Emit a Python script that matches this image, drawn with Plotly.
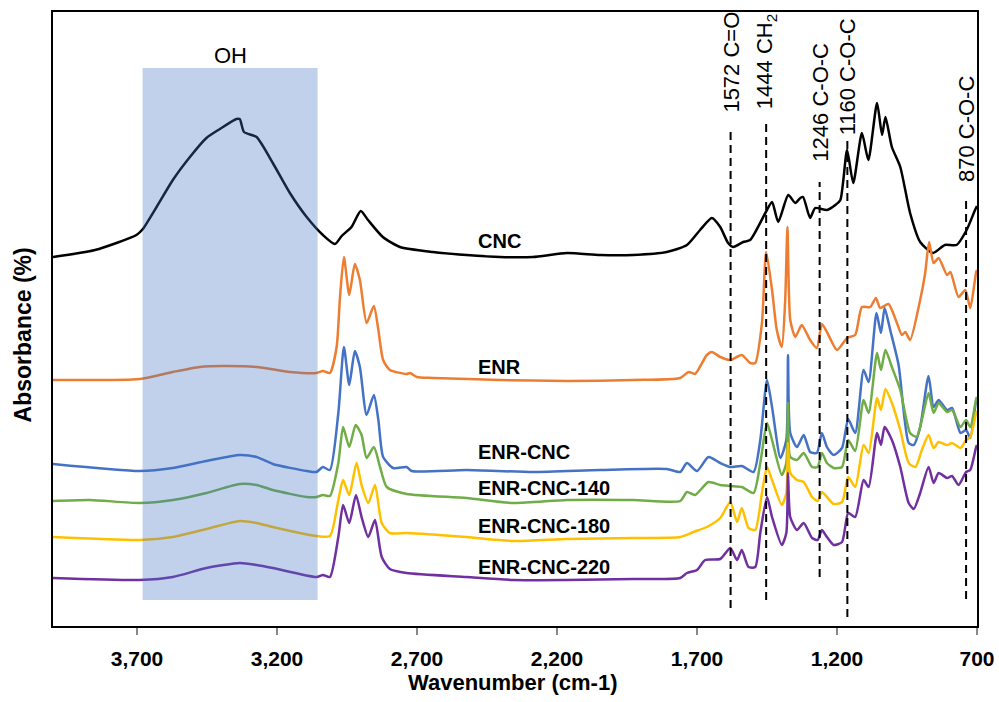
import plotly.graph_objects as go

# ---------------- data (wavenumber cm-1, stacked absorbance a.u.) ----------------
cnc_wn = [4000, 3850, 3702, 3679, 3630, 3572, 3511, 3452, 3404, 3345, 3333, 3318, 3273, 3215, 3154,
          3094, 3036, 2993, 2969, 2934, 2901, 2875, 2822, 2761, 2643, 2523, 2403, 2286, 2165, 2046,
          1928, 1808, 1736, 1689, 1647, 1617, 1589, 1571, 1535, 1510, 1456, 1432, 1410, 1374, 1349,
          1331, 1321, 1296, 1278, 1236, 1206, 1188, 1164, 1142, 1111, 1088, 1057, 1039, 1027, 1004,
          974, 939, 903, 857, 815, 773, 737, 707, 700]
cnc_abs = [3.69, 3.76, 3.91, 3.97, 4.19, 4.46, 4.69, 4.88, 4.97, 5.07, 5.07, 4.94, 4.89, 4.63, 4.33,
           4.09, 3.91, 3.82, 3.90, 3.99, 4.15, 4.06, 3.89, 3.79, 3.74, 3.71, 3.69, 3.69, 3.73, 3.71,
           3.71, 3.74, 3.81, 3.96, 4.08, 3.99, 3.83, 3.79, 3.84, 3.86, 4.13, 4.24, 4.04, 4.31, 4.23,
           4.28, 4.29, 4.08, 4.18, 4.16, 4.21, 4.26, 4.76, 4.43, 4.93, 4.66, 5.23, 4.91, 5.09, 4.79,
           4.59, 4.13, 3.84, 3.73, 3.81, 3.81, 3.96, 4.16, 4.20]

enr_wn = [4000, 3690, 3572, 3476, 3393, 3273, 3154, 3059, 3036, 3011, 2987, 2975, 2961, 2942, 2922,
          2904, 2880, 2854, 2838, 2821, 2797, 2737, 2725, 2701, 2643, 2403, 2165, 1928, 1760, 1730,
          1707, 1665, 1647, 1617, 1581, 1540, 1510, 1492, 1468, 1453, 1432, 1415, 1397, 1385, 1377,
          1367, 1349, 1331, 1325, 1296, 1272, 1254, 1236, 1200, 1164, 1135, 1111, 1081, 1061, 1046,
          1016, 986, 968, 956, 939, 903, 885, 871, 855, 837, 807, 795, 766, 742, 724, 703, 700]
enr_abs = [2.46, 2.47, 2.54, 2.59, 2.60, 2.59, 2.54, 2.53, 2.55, 2.53, 2.79, 3.29, 3.69, 3.31, 3.62,
           3.46, 3.03, 3.20, 2.96, 2.66, 2.56, 2.52, 2.53, 2.49, 2.48, 2.46, 2.45, 2.46, 2.48, 2.54,
           2.52, 2.71, 2.74, 2.69, 2.66, 2.71, 2.63, 2.63, 3.03, 3.74, 3.36, 2.96, 2.79, 3.26, 3.99,
           3.06, 2.89, 2.99, 3.01, 2.86, 2.78, 3.02, 2.94, 2.76, 2.88, 2.91, 3.19, 3.19, 3.28, 3.18,
           3.22, 3.03, 2.91, 2.94, 2.86, 3.26, 3.53, 3.84, 3.63, 3.68, 3.51, 3.54, 3.29, 3.36, 3.18,
           3.54, 3.56]

enrcnc_wn = [4000, 3690, 3572, 3452, 3333, 3273, 3215, 3094, 3059, 3036, 3011, 2981, 2961, 2942, 2922,
             2904, 2880, 2854, 2838, 2821, 2785, 2737, 2719, 2523, 2286, 2046, 1808, 1760, 1736, 1700,
             1659, 1617, 1581, 1540, 1498, 1474, 1450, 1432, 1402, 1381, 1375, 1367, 1343, 1319, 1296,
             1272, 1254, 1236, 1212, 1182, 1160, 1135, 1105, 1087, 1059, 1043, 1030, 1010, 980, 944,
             926, 903, 873, 855, 837, 807, 789, 759, 739, 724, 703, 700]
enrcnc_abs = [1.62, 1.55, 1.58, 1.65, 1.71, 1.69, 1.62, 1.55, 1.54, 1.59, 1.56, 2.13, 2.79, 2.41, 2.75,
              2.59, 2.11, 2.31, 2.06, 1.69, 1.58, 1.59, 1.55, 1.56, 1.54, 1.56, 1.57, 1.54, 1.63, 1.55,
              1.69, 1.63, 1.59, 1.60, 1.54, 1.86, 2.46, 2.19, 1.68, 1.86, 2.71, 1.93, 1.79, 1.91, 1.74,
              1.73, 1.93, 1.79, 1.71, 1.78, 2.07, 1.93, 2.56, 2.44, 3.13, 2.93, 3.18, 2.96, 2.61, 1.83,
              1.81, 1.99, 2.50, 2.19, 2.26, 2.16, 2.18, 1.93, 1.96, 1.88, 2.26, 2.28]

enrcnc140_wn = [4000, 3869, 3690, 3572, 3452, 3333, 3273, 3215, 3094, 3059, 3036, 3011, 2981, 2964, 2942,
                2919, 2898, 2880, 2854, 2832, 2808, 2737, 2523, 2356, 2165, 1928, 1760, 1736, 1707, 1659,
                1617, 1581, 1540, 1498, 1474, 1450, 1432, 1397, 1381, 1375, 1367, 1343, 1319, 1289, 1269,
                1254, 1236, 1212, 1182, 1160, 1135, 1105, 1087, 1057, 1043, 1027, 1004, 974, 939, 915,
                897, 873, 855, 837, 807, 789, 759, 739, 724, 703, 700]
enrcnc140_abs = [1.25, 1.26, 1.23, 1.26, 1.33, 1.42, 1.41, 1.36, 1.29, 1.29, 1.31, 1.30, 1.63, 1.99, 1.79,
                 2.01, 1.91, 1.68, 1.79, 1.59, 1.39, 1.32, 1.28, 1.23, 1.26, 1.26, 1.25, 1.34, 1.31, 1.44,
                 1.41, 1.40, 1.39, 1.33, 1.63, 2.03, 1.86, 1.51, 1.63, 2.23, 1.69, 1.66, 1.73, 1.59, 1.59,
                 1.73, 1.63, 1.58, 1.59, 1.86, 1.75, 2.26, 2.13, 2.73, 2.56, 2.76, 2.59, 2.36, 1.93, 1.89,
                 2.06, 2.33, 2.13, 2.23, 2.14, 2.16, 1.99, 2.06, 1.99, 2.27, 2.29]

enrcnc180_wn = [4000, 3690, 3572, 3452, 3333, 3273, 3215, 3059, 3011, 2981, 2964, 2942, 2916, 2898, 2874,
                2850, 2826, 2797, 2737, 2523, 2356, 2165, 1928, 1760, 1713, 1665, 1617, 1581, 1557, 1540,
                1516, 1492, 1468, 1450, 1432, 1397, 1381, 1375, 1367, 1343, 1319, 1289, 1269, 1254, 1236,
                1212, 1182, 1160, 1135, 1105, 1087, 1057, 1043, 1027, 1004, 974, 944, 920, 897, 873,
                855, 837, 807, 789, 759, 739, 724, 703, 700]
enrcnc180_abs = [0.89, 0.86, 0.89, 0.97, 1.05, 1.03, 0.99, 0.90, 0.90, 1.26, 1.46, 1.31, 1.63, 1.41, 1.23,
                 1.41, 1.03, 0.93, 0.93, 0.89, 0.85, 0.87, 0.88, 0.89, 0.94, 0.99, 1.08, 1.24, 1.04, 1.18,
                 0.98, 0.96, 1.33, 1.59, 1.46, 1.21, 1.33, 1.83, 1.53, 1.46, 1.44, 1.29, 1.25, 1.34, 1.29,
                 1.22, 1.24, 1.49, 1.39, 1.81, 1.73, 2.28, 2.16, 2.37, 2.23, 1.96, 1.63, 1.59, 1.76, 1.91,
                 1.78, 1.84, 1.81, 1.83, 1.78, 1.86, 1.89, 2.13, 2.15]

enrcnc220_wn = [4000, 3690, 3572, 3452, 3333, 3273, 3215, 3059, 3036, 3011, 2981, 2964, 2942, 2918, 2898,
                2874, 2850, 2826, 2797, 2737, 2523, 2356, 2165, 1928, 1760, 1736, 1700, 1671, 1617, 1581,
                1557, 1540, 1516, 1492, 1474, 1450, 1432, 1397, 1381, 1375, 1367, 1343, 1319, 1289, 1269,
                1254, 1236, 1212, 1182, 1160, 1135, 1105, 1087, 1057, 1043, 1030, 1004, 974, 944, 926,
                903, 873, 855, 837, 807, 789, 766, 739, 724, 703, 700]
enrcnc220_abs = [0.48, 0.46, 0.49, 0.58, 0.63, 0.61, 0.58, 0.49, 0.51, 0.49, 0.89, 1.21, 1.03, 1.31, 1.09,
                 0.89, 1.06, 0.69, 0.57, 0.53, 0.49, 0.46, 0.46, 0.47, 0.48, 0.53, 0.56, 0.66, 0.67, 0.78,
                 0.66, 0.76, 0.59, 0.59, 0.93, 1.29, 1.09, 0.81, 0.93, 1.53, 1.09, 0.96, 1.03, 0.88, 0.86,
                 0.96, 0.89, 0.81, 0.84, 1.13, 1.09, 1.46, 1.39, 1.93, 1.81, 1.99, 1.86, 1.59, 1.23, 1.17,
                 1.33, 1.59, 1.43, 1.53, 1.48, 1.50, 1.41, 1.54, 1.56, 1.79, 1.81]

series_names = ["CNC", "ENR", "ENR-CNC", "ENR-CNC-140", "ENR-CNC-180", "ENR-CNC-220"]
series_colors = ["#000000", "#ED7D31", "#4472C4", "#70AD47", "#FFC000", "#7030A0"]
label_levels = [3.85, 2.59, 1.74, 1.38, 1.00, 0.59]
label_wn = 2490

# band markers (wavenumber position drawn, label, line top/bottom, label centre)
band_wn = [1580, 1453, 1262, 1163, 739]
band_text = ["1572 C=O", "1444 CH<sub>2</sub>", "1246 C-O-C", "1160 C-O-C", "870 C-O-C"]
band_top = [4.94, 5.03, 4.44, 4.88, 4.29]
band_bottom = [0.18, 0.26, 0.49, 0.09, 0.27]
band_label_y = [5.64, 5.64, 5.24, 5.49, 4.97]

oh_range = [3680, 3055]
oh_vert = [0.26, 5.58]

xticks = [3700, 3200, 2700, 2200, 1700, 1200, 700]

FONT = "Liberation Sans, Arial"

# ---------------- figure ----------------
fig = go.Figure()
all_wn = [cnc_wn, enr_wn, enrcnc_wn, enrcnc140_wn, enrcnc180_wn, enrcnc220_wn]
all_abs = [cnc_abs, enr_abs, enrcnc_abs, enrcnc140_abs, enrcnc180_abs, enrcnc220_abs]
for wn, ab, name, col in zip(all_wn, all_abs, series_names, series_colors):
    fig.add_trace(go.Scatter(x=wn, y=ab, mode="lines", name=name,
                             line=dict(color=col, width=2.5, shape="spline", smoothing=0.6)))

# OH band
fig.add_shape(type="rect", xref="x", yref="y", x0=oh_range[0], x1=oh_range[1],
              y0=oh_vert[0], y1=oh_vert[1], line=dict(width=0),
              fillcolor="rgba(68,114,196,0.33)", layer="above")
fig.add_annotation(x=(oh_range[0] + oh_range[1]) / 2, y=oh_vert[1], text="OH", showarrow=False,
                   yanchor="bottom", yshift=-2,
                   font=dict(family=FONT, size=22, color="black"))

# band marker lines and labels
for wn, txt, top, bot, ly in zip(band_wn, band_text, band_top, band_bottom, band_label_y):
    fig.add_shape(type="line", xref="x", yref="y", x0=wn, x1=wn, y0=bot, y1=top,
                  line=dict(color="black", width=2, dash="8px,5px"), layer="above")
    fig.add_annotation(x=wn, y=ly, text=txt, textangle=-90, showarrow=False,
                       xanchor="center", yanchor="middle",
                       font=dict(family=FONT, size=22, color="black"))

# series labels
for name, lv in zip(series_names, label_levels):
    fig.add_annotation(x=label_wn, y=lv, text="<b>" + name + "</b>", showarrow=False,
                       xanchor="left", yanchor="middle",
                       font=dict(family=FONT, size=20, color="black"))

# axis titles
fig.add_annotation(xref="paper", yref="paper", x=0.4975, y=-0.0925, text="<b>Wavenumber (cm-1)</b>",
                   showarrow=False, xanchor="center", yanchor="middle",
                   font=dict(family=FONT, size=22, color="black"))
fig.add_annotation(xref="paper", yref="paper", x=-0.032, y=0.474, text="<b>Absorbance (%)</b>",
                   textangle=-90, showarrow=False, xanchor="center", yanchor="middle",
                   font=dict(family=FONT, size=23, color="black"))

fig.update_layout(
    width=999, height=702, autosize=False,
    margin=dict(l=53, r=22, t=12, b=76, pad=0, autoexpand=False),
    paper_bgcolor="white", plot_bgcolor="white",
    showlegend=False,
    font=dict(family=FONT, color="black"),
)
fig.update_xaxes(range=[4000, 700], tickvals=xticks,
                 ticktext=[f"<b>{v:,}</b>" for v in xticks],
                 tickfont=dict(size=21, family=FONT, color="black"),
                 ticks="outside", ticklen=7, tickwidth=1.5, tickcolor="#888888",
                 ticklabelstandoff=6, automargin=False,
                 showline=True, linecolor="black", linewidth=2, mirror=True,
                 showgrid=False, zeroline=False)
fig.update_yaxes(range=[0, 6.14], showticklabels=False, ticks="", automargin=False,
                 showline=True, linecolor="black", linewidth=2, mirror=True,
                 showgrid=False, zeroline=False)

fig.write_html("out.html")
